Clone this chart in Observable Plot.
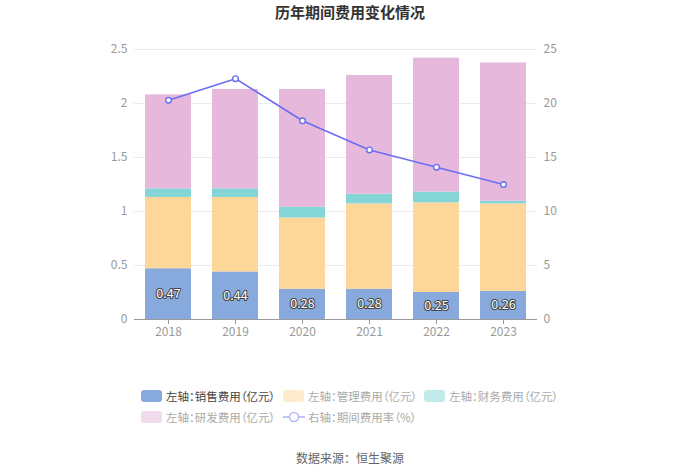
<!DOCTYPE html>
<html><head><meta charset="utf-8">
<script src="https://cdn.jsdelivr.net/npm/d3@7"></script>
<script src="https://cdn.jsdelivr.net/npm/@observablehq/plot@0.6"></script>
<style>
html,body{margin:0;padding:0;background:#fff;}
#wrap{position:relative;width:700px;height:474px;font-family:"Noto Sans CJK SC","Noto Sans",sans-serif;overflow:hidden;}
#title{position:absolute;left:0;top:1px;width:700px;text-align:center;font-size:15px;font-weight:bold;color:#333;line-height:22px;}
#chart{position:absolute;left:0;top:24px;}
.lg{position:absolute;font-size:11.5px;line-height:14px;display:flex;align-items:center;white-space:nowrap;font-feature-settings:"palt";}
.sw{width:21px;height:12px;border-radius:3px;margin-right:4px;}
#foot{position:absolute;left:0;top:449px;width:700px;text-align:center;font-size:12px;color:#666;line-height:18px;}
</style></head>
<body><div id="wrap">
<div id="title">历年期间费用变化情况</div>
<div id="chart"></div>
<div id="legend"></div>
<div id="foot">数据来源：恒生聚源</div>
</div>
<script>
const years = ["2018","2019","2020","2021","2022","2023"];
const sales = [0.47,0.44,0.28,0.28,0.25,0.26];
const admin = [0.66,0.69,0.66,0.79,0.83,0.81];
const finance = [0.08,0.08,0.10,0.09,0.10,0.025];
const rnd = [0.87,0.92,1.09,1.10,1.24,1.28];
const rate = [20.3,22.3,18.4,15.7,14.1,12.5];
const seriesNames = ["左轴：销售费用（亿元）","左轴：管理费用（亿元）","左轴：财务费用（亿元）","左轴：研发费用（亿元）"];
const lineName = "右轴：期间费用率（%）";
const colors = ["#88a9db","#fdd699","#84d6d6","#e5b8dc"];
const lineColor = "#6b6ef0";
const leftTicks = [0,0.5,1,1.5,2,2.5];

const seriesVals = [sales, admin, finance, rnd];
const long = [];
years.forEach((y,i)=>seriesVals.forEach((arr,k)=>long.push({year:y, series:seriesNames[k], value:arr[i]})));
const rows = years.map((y,i)=>({year:y, sales:sales[i], rate:rate[i]}));

const chart = Plot.plot({
  width:700, height:325,
  marginTop:25, marginBottom:30, marginLeft:134, marginRight:163,
  style:{fontFamily:'"Noto Sans CJK SC","Noto Sans",sans-serif', fontSize:"12px", background:"transparent"},
  x:{domain:years, paddingInner:0.315, paddingOuter:0.1575, label:null},
  y:{domain:[0,2.5], label:null},
  color:{domain:seriesNames, range:colors},
  marks:[
    Plot.gridY(leftTicks.slice(1), {stroke:"#ebebeb", strokeOpacity:1}),
    Plot.axisY(leftTicks, {anchor:"left", tickSize:0, tickPadding:7, label:null, color:"#999", fontSize:12, tickFormat:d=>String(d)}),
    Plot.axisY(leftTicks, {anchor:"right", tickSize:0, tickPadding:6, label:null, color:"#999", fontSize:12, tickFormat:d=>String(Math.round(d*10))}),
    Plot.barY(long, {x:"year", y:"value", fill:"series"}),
    Plot.ruleY([0], {stroke:"#999"}),
    Plot.axisX({tickSize:5, tickPadding:3, label:null, color:"#999", fontSize:12}),
    Plot.text(rows, {x:"year", y:d=>d.sales/2, text:d=>d.sales.toFixed(2), fill:"white", stroke:"#444", strokeWidth:2, paintOrder:"stroke", fontSize:12.5}),
    Plot.line(rows, {x:"year", y:d=>d.rate/10, stroke:lineColor, strokeWidth:1.6}),
    Plot.dot(rows, {x:"year", y:d=>d.rate/10, r:2.8, fill:"white", stroke:lineColor, strokeWidth:1.4})
  ]
});
document.getElementById("chart").appendChild(chart);

const lg = document.getElementById("legend");
const pos = [[141,389],[283,389],[424,389],[141,410],[283,410]];
seriesNames.forEach((name,k)=>{
  const d = document.createElement("div");
  d.className="lg";
  d.style.left=pos[k][0]+"px"; d.style.top=pos[k][1]+"px";
  d.style.color = k===0 ? "#444" : "#aaa";
  const s = document.createElement("div"); s.className="sw"; s.style.background=colors[k];
  if(k>0) s.style.opacity=0.5;
  d.appendChild(s); d.appendChild(document.createTextNode(name));
  lg.appendChild(d);
});
{
  const d = document.createElement("div");
  d.className="lg"; d.style.left=pos[4][0]+"px"; d.style.top=pos[4][1]+"px"; d.style.color="#aaa";
  d.innerHTML = `<svg width="22" height="12" style="margin-right:3px;opacity:0.5"><line x1="0" y1="6" x2="22" y2="6" stroke="${lineColor}" stroke-width="1.6"/><circle cx="11" cy="6" r="4.5" fill="white" stroke="${lineColor}" stroke-width="1.5"/></svg>`;
  d.appendChild(document.createTextNode(lineName));
  lg.appendChild(d);
}
</script>
</body></html>
